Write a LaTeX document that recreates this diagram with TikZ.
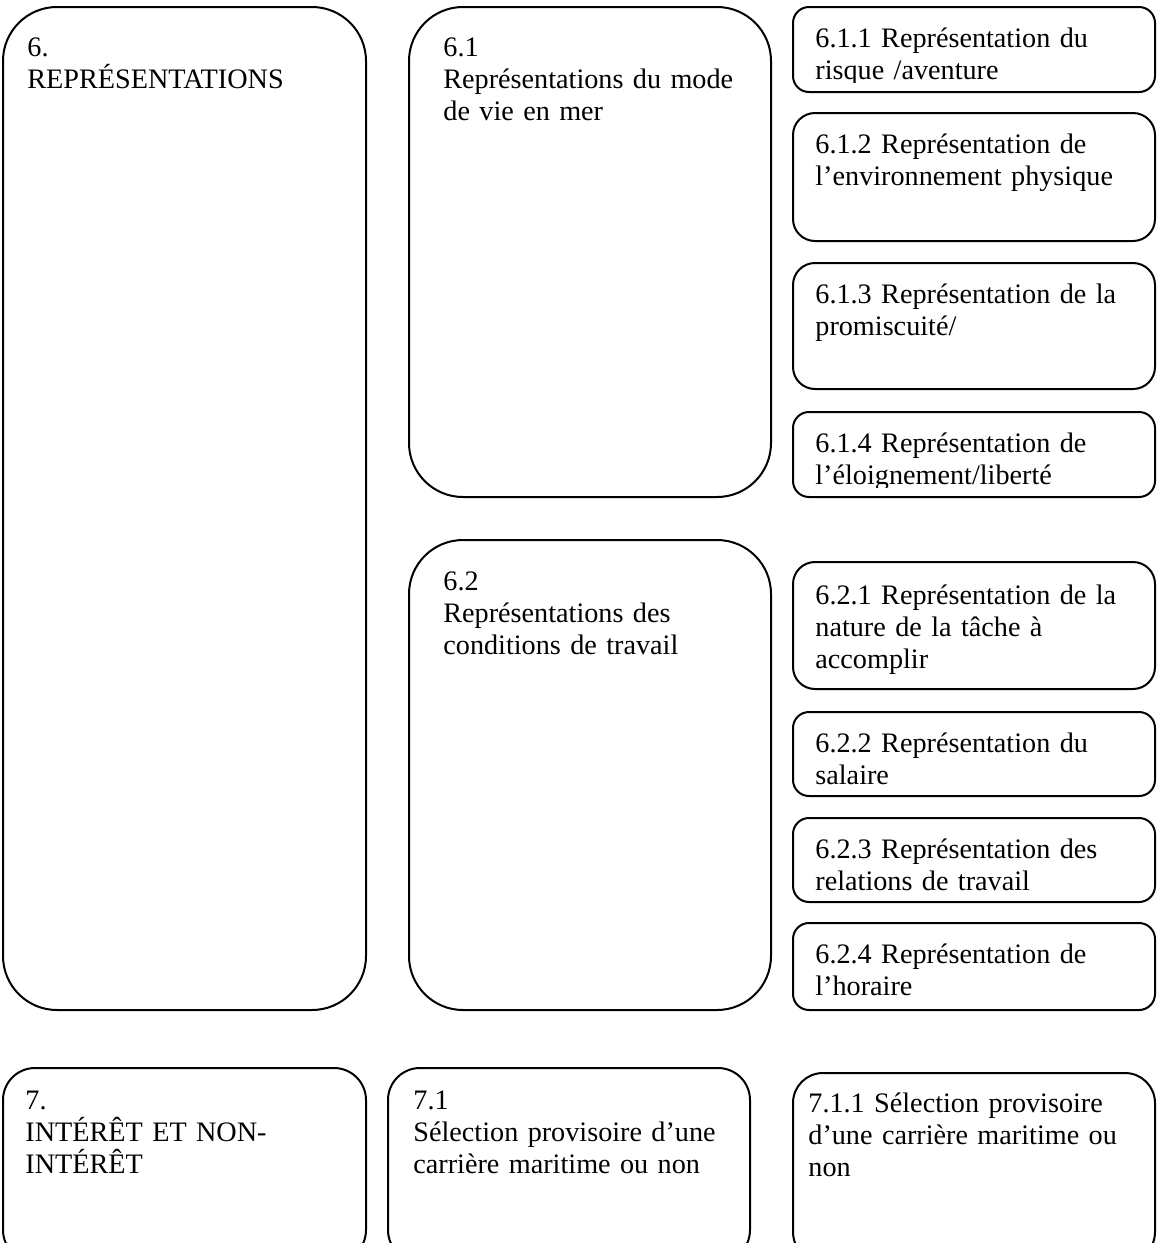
\documentclass[tikz,border=0pt]{standalone}
\usepackage{fontspec}
\setmainfont{Liberation Serif}
\usepackage{tikz}
\tikzset{
  cadre/.style={draw=black,line width=1pt,rounded corners=#1},
  cadre/.default=9pt,
  lbl/.style={anchor=base west,inner sep=0pt,text width=175pt,align=left,
              font=\fontsize{14.1pt}{16pt}\selectfont,text=black},
}

\begin{document}
\begin{tikzpicture}[x=0.5pt,y=-0.5pt]
  \useasboundingbox (0,0) rectangle (1157,1243);

  % ---------- 6. representations ----------
  \draw[cadre=27pt] (3,7) rectangle (366,1010);
  \node[lbl] (t6) at (27,56) {6.\\REPRÉSENTATIONS};

  % 6.1 mode de vie
  \draw[cadre=27pt] (409,7) rectangle (771,497);
  \node[lbl] (t61) at (443,56) {6.1\\Représentations du mode\\de vie en mer};

  \draw[cadre=8pt] (793,7) rectangle (1155,92);
  \begin{scope}
    \clip (793,7) rectangle (1155,82);
    \node[lbl] (t611) at (815,47) {6.1.1 Représentation du\\risque /aventure};
  \end{scope}
  \draw[cadre=11pt] (793,113) rectangle (1155,241);
  \node[lbl] (t612) at (815,153) {6.1.2 Représentation de\\l’environnement physique};
  \draw[cadre=11pt] (793,263) rectangle (1155,389);
  \node[lbl] (t613) at (815,303) {6.1.3 Représentation de la\\promiscuité/};
  \draw[cadre=8pt] (793,412) rectangle (1155,497);
  \begin{scope}
    \clip (793,412) rectangle (1155,487);
    \node[lbl] (t614) at (815,452) {6.1.4 Représentation de\\l’éloignement/liberté};
  \end{scope}

  % 6.2 conditions de travail
  \draw[cadre=27pt] (409,540) rectangle (771,1010);
  \node[lbl] (t62) at (443,590) {6.2\\Représentations des\\conditions de travail};

  \draw[cadre=11pt] (793,562) rectangle (1155,689);
  \node[lbl] (t621) at (815,604) {6.2.1 Représentation de la\\nature de la tâche à\\accomplir};
  \draw[cadre=8pt] (793,712) rectangle (1155,796);
  \node[lbl] (t622) at (815,752) {6.2.2 Représentation du\\salaire};
  \draw[cadre=8pt] (793,818) rectangle (1155,902);
  \node[lbl] (t623) at (815,858) {6.2.3 Représentation des\\relations de travail};
  \draw[cadre=8pt] (793,923) rectangle (1155,1010);
  \node[lbl] (t624) at (815,963) {6.2.4 Représentation de\\l’horaire};

  % ---------- 7. interet ----------
  \draw[cadre=16pt] (3,1068) rectangle (366,1262);
  \node[lbl] (t7) at (25,1109) {7.\\INTÉRÊT ET NON-\\INTÉRÊT};
  \draw[cadre=16pt] (388,1068) rectangle (750,1262);
  \node[lbl] (t71) at (413,1109) {7.1\\Sélection provisoire d’une\\carrière maritime ou non};
  \draw[cadre=15pt] (793,1073) rectangle (1155,1262);
  \node[lbl] (t711) at (808,1112) {7.1.1 Sélection provisoire\\d’une carrière maritime ou\\non};
\end{tikzpicture}
\end{document}
